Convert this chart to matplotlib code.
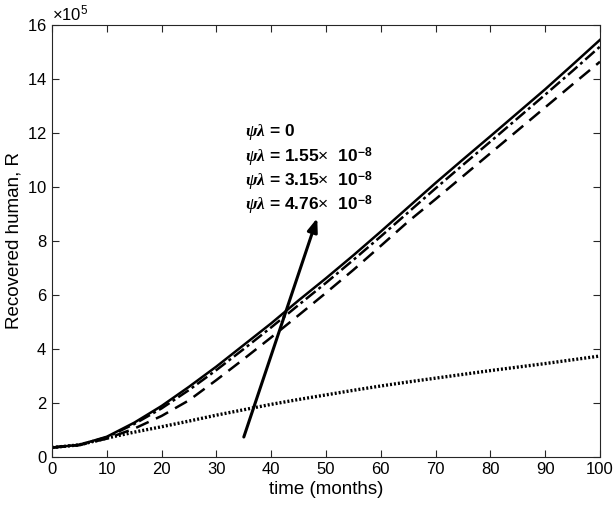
import matplotlib
matplotlib.use("Agg")
import matplotlib.pyplot as plt
from matplotlib.ticker import ScalarFormatter

plt.rcParams['font.family'] = ['Liberation Sans', 'DejaVu Sans']
plt.rcParams['mathtext.fontset'] = 'custom'
plt.rcParams['mathtext.rm'] = 'Liberation Sans'
plt.rcParams['mathtext.bf'] = 'Liberation Sans:bold'
plt.rcParams['mathtext.it'] = 'Liberation Serif:italic:bold'

t = [0, 5, 10, 15, 20, 25, 30, 35, 40, 45, 50, 55, 60, 65, 70, 75, 80, 85, 90, 95, 100]
R_solid = [0.35, 0.45, 0.75, 1.27, 1.89, 2.6, 3.35, 4.15, 4.95, 5.8, 6.62, 7.47, 8.35,
           9.25, 10.15, 11.02, 11.88, 12.75, 13.62, 14.53, 15.45]
R_dashdot = [0.35, 0.45, 0.73, 1.22, 1.8, 2.48, 3.22, 4.0, 4.8, 5.63, 6.45, 7.3, 8.17,
             9.06, 9.95, 10.82, 11.68, 12.55, 13.42, 14.3, 15.2]
R_dashed = [0.35, 0.44, 0.68, 1.05, 1.52, 2.1, 2.85, 3.63, 4.43, 5.25, 6.08, 6.93, 7.82,
            8.72, 9.55, 10.4, 11.25, 12.1, 12.95, 13.8, 14.64]
R_dotted = [0.35, 0.45, 0.7, 0.92, 1.12, 1.33, 1.55, 1.75, 1.95, 2.13, 2.3, 2.47, 2.63,
            2.78, 2.92, 3.06, 3.2, 3.33, 3.46, 3.6, 3.74]
scale = 1e5

labels = [r'$\psi\lambda$ = 0',
          r'$\psi\lambda$ = 1.55$\times$  $\mathbf{10}^{\mathbf{-8}}$',
          r'$\psi\lambda$ = 3.15$\times$  $\mathbf{10}^{\mathbf{-8}}$',
          r'$\psi\lambda$ = 4.76$\times$  $\mathbf{10}^{\mathbf{-8}}$']
label_y = [12.05, 11.1, 10.2, 9.3]
label_x = 35.2
arrow_start = (35, 0.74)
arrow_end = (48.4, 8.85)

fig = plt.figure(figsize=(6.14, 5.11), dpi=100)
ax = fig.add_axes([0.0847, 0.1057, 0.8925, 0.8454])

k = 'black'
ax.plot(t, [v * scale for v in R_solid], color=k, lw=1.8, ls='-')
ax.plot(t, [v * scale for v in R_dashdot], color=k, lw=1.8, ls=(0, (5, 1.5, 1.2, 1.5)))
ax.plot(t, [v * scale for v in R_dashed], color=k, lw=1.8, ls=(0, (5.5, 3.2)))
ax.plot(t, [v * scale for v in R_dotted], color=k, lw=2.4, ls=(0, (0.6, 0.6)))

ax.annotate('', xy=(arrow_end[0], arrow_end[1] * scale),
            xytext=(arrow_start[0], arrow_start[1] * scale),
            arrowprops=dict(arrowstyle='-|>,head_length=0.8,head_width=0.3',
                            color=k, lw=2.2, shrinkA=0, shrinkB=0))

for lab, yy in zip(labels, label_y):
    ax.text(label_x, yy * scale, lab, fontsize=12.5, fontweight='bold',
            ha='left', va='center', color=k)

ax.set_xlim(0, 100)
ax.set_ylim(0, 16 * scale)
ax.set_xticks(range(0, 101, 10))
ax.set_yticks([v * scale for v in range(0, 17, 2)])
fmt = ScalarFormatter(useMathText=True)
fmt.set_powerlimits((5, 5))
ax.yaxis.set_major_formatter(fmt)
ax.yaxis.get_offset_text().set_fontsize(12)

ax.tick_params(direction='in', top=True, right=True, labelsize=12, length=5,
               width=0.8, colors='#262626', labelcolor='black')
for s in ax.spines.values():
    s.set_color('#262626')
    s.set_linewidth(0.8)

ax.set_xlabel('time (months)', fontsize=13.5, labelpad=3)
ax.set_ylabel('Recovered human, R', fontsize=13.5, labelpad=3)

fig.savefig('out.png', dpi=100)
